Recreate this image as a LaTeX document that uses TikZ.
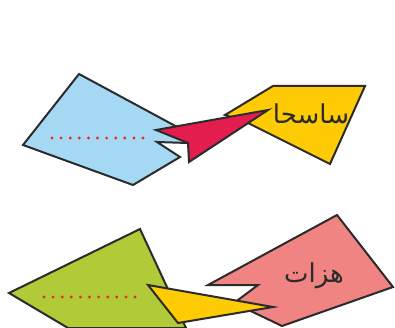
\documentclass[tikz,border=0pt]{standalone}
\usepackage{fontspec}
\newfontfamily\arabicfont[Script=Arabic]{DejaVu Sans}
\TeXXeTstate=1
\definecolor{cblue}{HTML}{A5D8F3}
\definecolor{cred}{HTML}{E31E4E}
\definecolor{cyel}{HTML}{FFCB05}
\definecolor{cgreen}{HTML}{B0CA38}
\definecolor{cpink}{HTML}{F08482}
\definecolor{cline}{HTML}{2B2B2B}
\definecolor{cdot}{HTML}{E5282C}
\tikzset{
  shapebox/.style={draw=cline, line width=2pt, line join=miter, miter limit=6},
  dotmark/.style={fill=cdot, draw=none},
  wordlabel/.style={inner sep=0pt, font=\arabicfont\fontsize{26}{30}\selectfont, text=cline}
}
\begin{document}
\begin{tikzpicture}[x=1pt,y=-1pt]
\useasboundingbox (0,0) rectangle (395,328);
% --- top pair ---
\fill[white] (0,0) rectangle (395,328);
\draw[shapebox, fill=cblue] (79,74) -- (192,135) -- (188,143) -- (157,142) -- (180,157) -- (133,185) -- (23,145) -- cycle;
\draw[shapebox, fill=cyel] (273,86) -- (365,86) -- (330,164) -- (246,122) -- (225,115) -- cycle;
\draw[shapebox, fill=cred] (156,130) -- (268,110) -- (189,162) -- (188,143) -- cycle;
\foreach \i in {0,...,10} { \fill[dotmark] (52+\i*9.1,138) circle (1.6); }
\node[wordlabel] (w1) at (311,114) {\beginR ساسحا\endR};
% --- bottom pair ---
\draw[shapebox, fill=cgreen] (140,229) -- (186,328) -- (68,328) -- (9,293) -- cycle;
\draw[shapebox, fill=cpink] (337,215) -- (393,287) -- (282,326) -- (234,303) -- (258,285) -- (208,285) -- cycle;
\draw[shapebox, fill=cyel] (148,285) -- (273,307) -- (178,323) -- cycle;
\foreach \i in {0,...,10} { \fill[dotmark] (44+\i*9.1,297) circle (1.6); }
\node[wordlabel] (w2) at (314,276) {\beginR هزات\endR};
\end{tikzpicture}
\end{document}
